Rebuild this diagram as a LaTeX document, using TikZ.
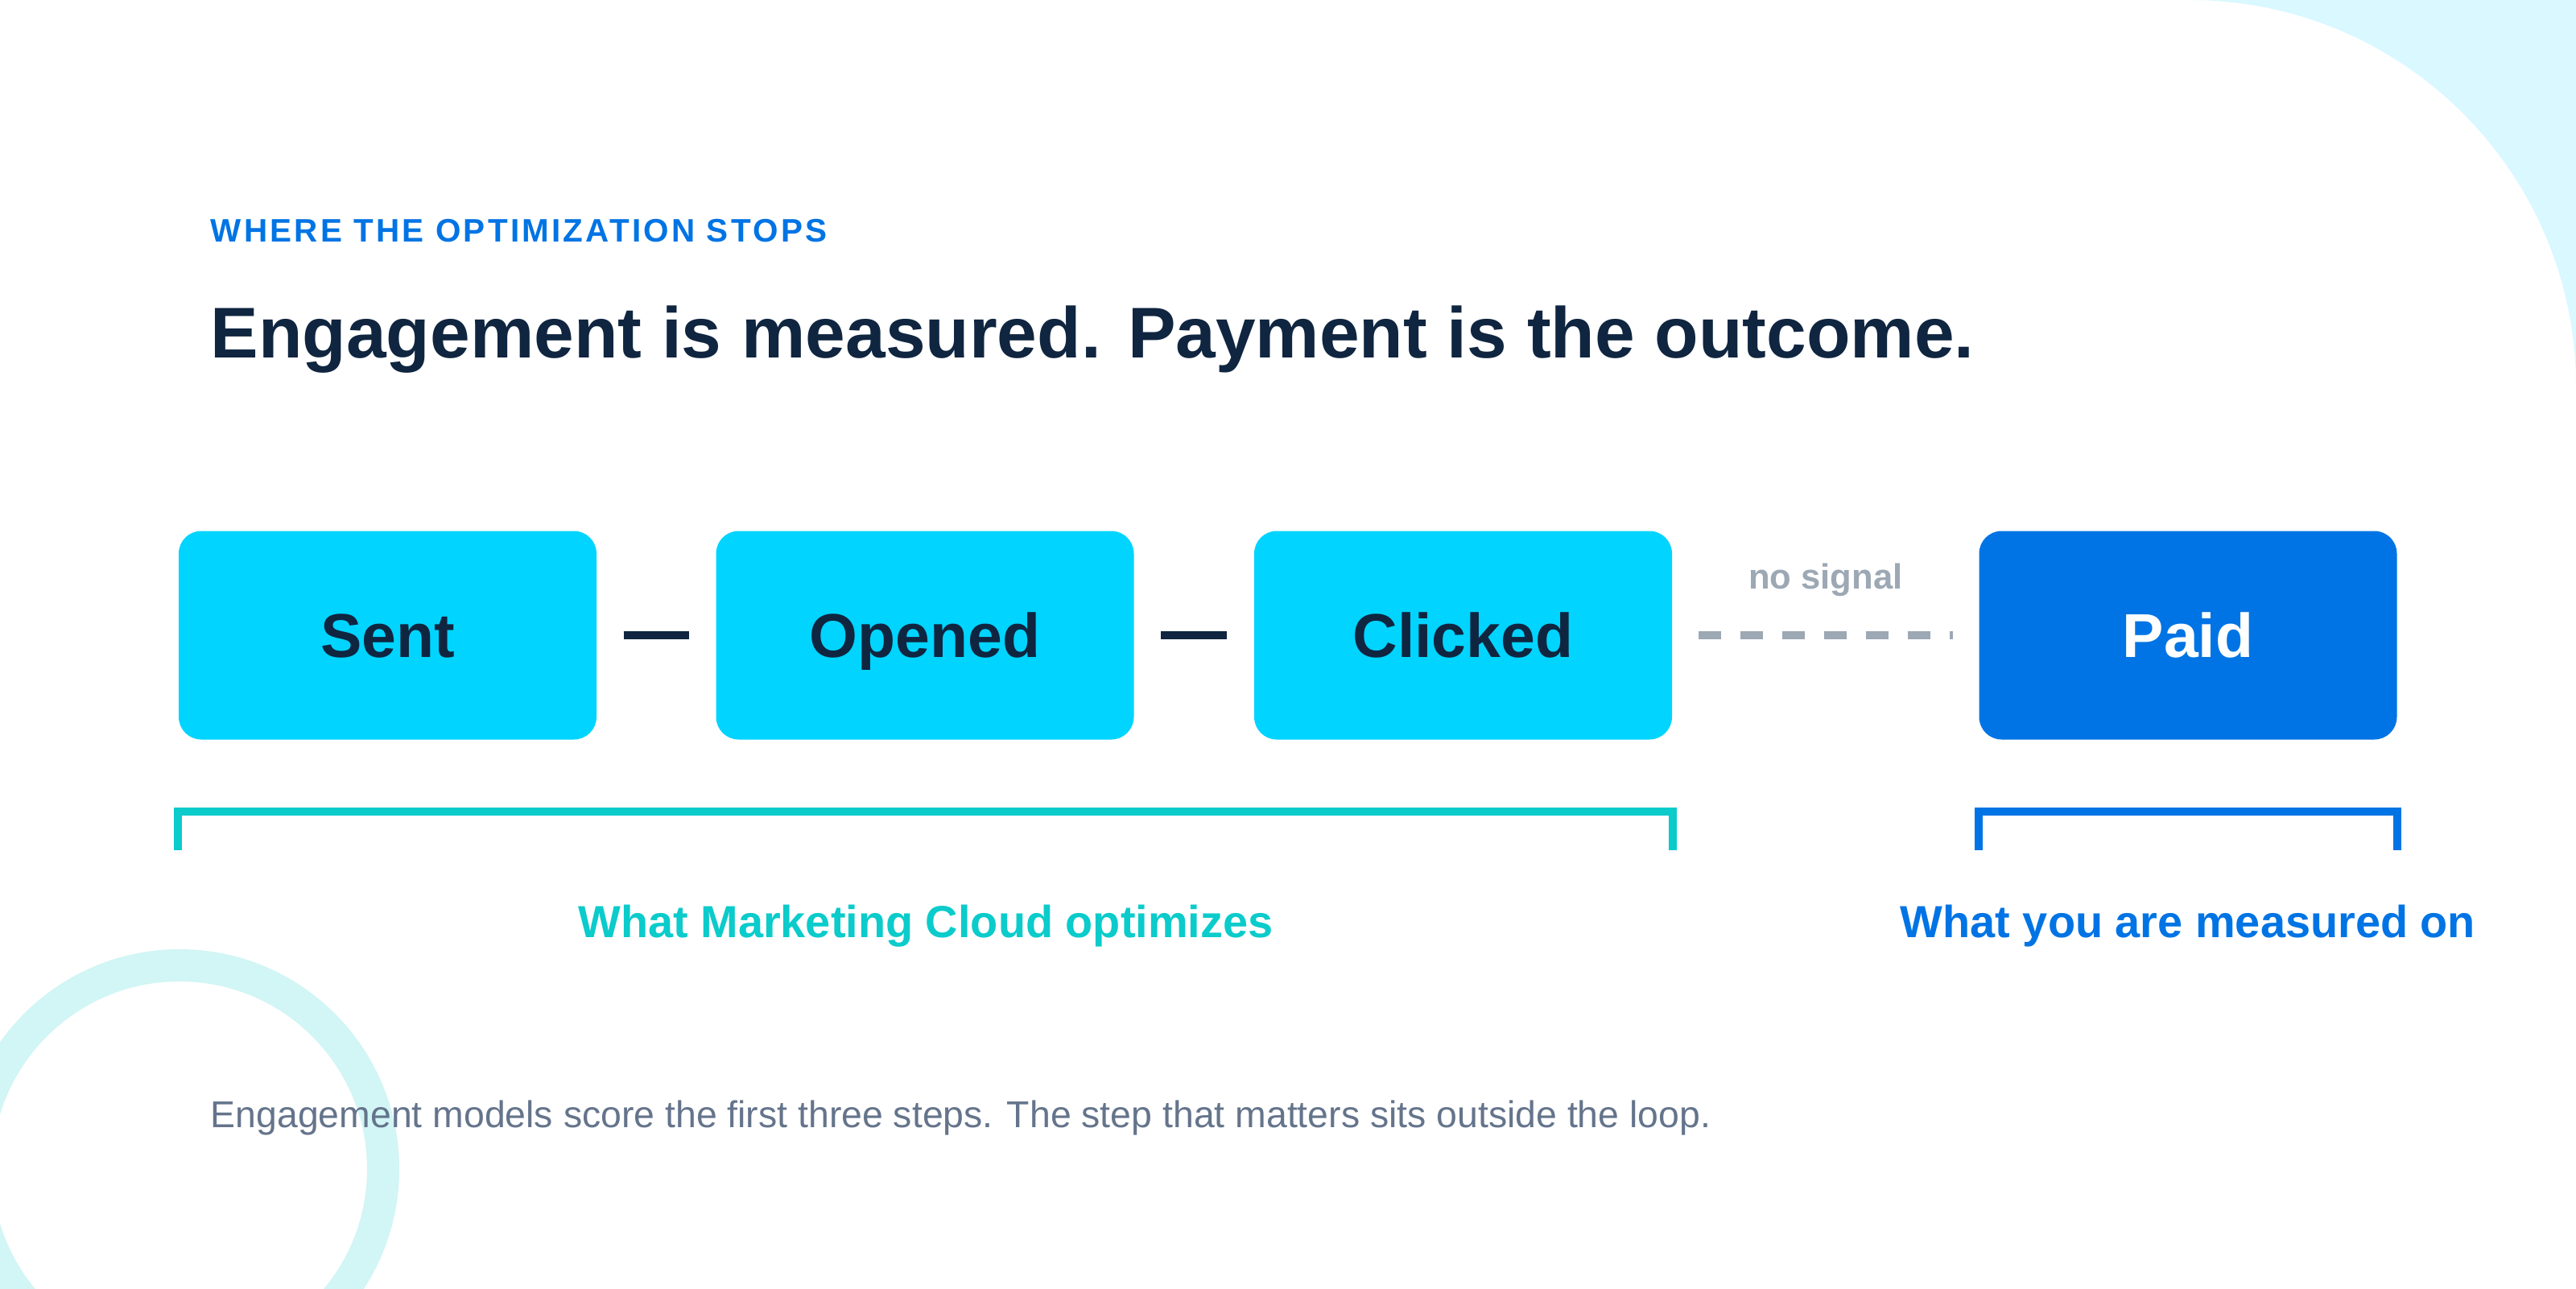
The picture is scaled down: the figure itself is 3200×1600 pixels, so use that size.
\documentclass[tikz,border=0pt]{standalone}
\usepackage{fontspec}
\setmainfont{Liberation Sans}
\newfontfamily\kickerfont[LetterSpace=8]{Liberation Sans}
\usetikzlibrary{calc}

\definecolor{ink}{HTML}{0F2540}
\definecolor{boxcyan}{HTML}{00D4FF}
\definecolor{paidblue}{HTML}{0074E4}
\definecolor{optteal}{HTML}{0BCBCB}
\definecolor{signalgray}{HTML}{9CA8B4}
\definecolor{footgray}{HTML}{64748B}
\definecolor{blobcyan}{HTML}{D9F8FF}
\definecolor{ringteal}{HTML}{D2F5F5}

\tikzset{
  stepbox/.style={rounded corners=2.8mm, minimum width=51.9mm, minimum height=25.9mm,
    inner sep=0pt, text height=5.5mm, text depth=0pt,
    font=\bfseries\fontsize{21.9}{24}\selectfont},
  engaged/.style={stepbox, fill=boxcyan, text=ink},
  outcome/.style={stepbox, fill=paidblue, text=white},
  steplink/.style={draw=ink, line width=1mm, shorten <=3.3mm, shorten >=3.3mm},
  nosignalgap/.style={draw=signalgray, line width=0.93mm, dash pattern=on 2.8mm off 2.4mm,
    shorten <=3.2mm, shorten >=3.2mm},
  bracketline/.style={line width=1mm},
}

\begin{document}
\begin{tikzpicture}[x=0.1mm,y=-0.1mm]
   \useasboundingbox (0,0) rectangle (3200,1600);
   \fill[white] (0,0) rectangle (3200,1600);
   % background shapes
   \begin{scope}
     \clip (0,0) rectangle (3200,1600);
     \fill[blobcyan] (2720,0) -- (3200,0) -- (3200,480) arc[start angle=0, end angle=-90, radius=480] -- cycle;
     \draw[ringteal, line width=4mm] (223,1452) circle (253);
   \end{scope}

   % heading
   \node[anchor=base west, inner sep=0pt, text=paidblue, font=\kickerfont\bfseries\fontsize{11.5}{14}\selectfont] (kicker) at (261,300) {WHERE THE OPTIMIZATION STOPS};
   \node[anchor=base west, inner sep=0pt, text=ink, font=\bfseries\fontsize{25.4}{30}\selectfont] (title) at (261,444) {Engagement is measured. Payment is the outcome.};

   % steps
   \node[engaged] (sent) at (481.5,789) {Sent};
   \node[engaged] (opened) at (1149,789) {Opened};
   \node[engaged] (clicked) at (1817.5,789) {Clicked};
   \node[outcome] (paid) at (2718,789) {Paid};

   \draw[steplink] (sent) -- (opened);
   \draw[steplink] (opened) -- (clicked);
   \draw[nosignalgap] (clicked) -- (paid)
     node[midway, anchor=base, yshift=5.8mm, inner sep=0pt, text=signalgray, font=\bfseries\fontsize{12.4}{15}\selectfont] (nosignal) {no signal};

   % brackets
   \draw[bracketline, optteal] (sent.south west |- 0,1056) -- (sent.south west |- 0,1008) -- (clicked.south east |- 0,1008) -- (clicked.south east |- 0,1056);
   \draw[bracketline, paidblue] (paid.south west |- 0,1056) -- (paid.south west |- 0,1008) -- (paid.south east |- 0,1008) -- (paid.south east |- 0,1056);
   \node[anchor=base, inner sep=0pt, text=optteal, font=\bfseries\fontsize{15.9}{19}\selectfont] (optlabel) at (1150,1164) {What Marketing Cloud optimizes};
   \node[anchor=base, inner sep=0pt, text=paidblue, font=\bfseries\fontsize{15.9}{19}\selectfont] (paidlabel) at (2718,1164) {What you are measured on};

   % footer
   \node[anchor=base west, inner sep=0pt, text=footgray, font=\fontsize{13.2}{16}\selectfont] (footer) at (261,1400) {Engagement models score the first three steps. The step that matters sits outside the loop.};
\end{tikzpicture}
\end{document}
